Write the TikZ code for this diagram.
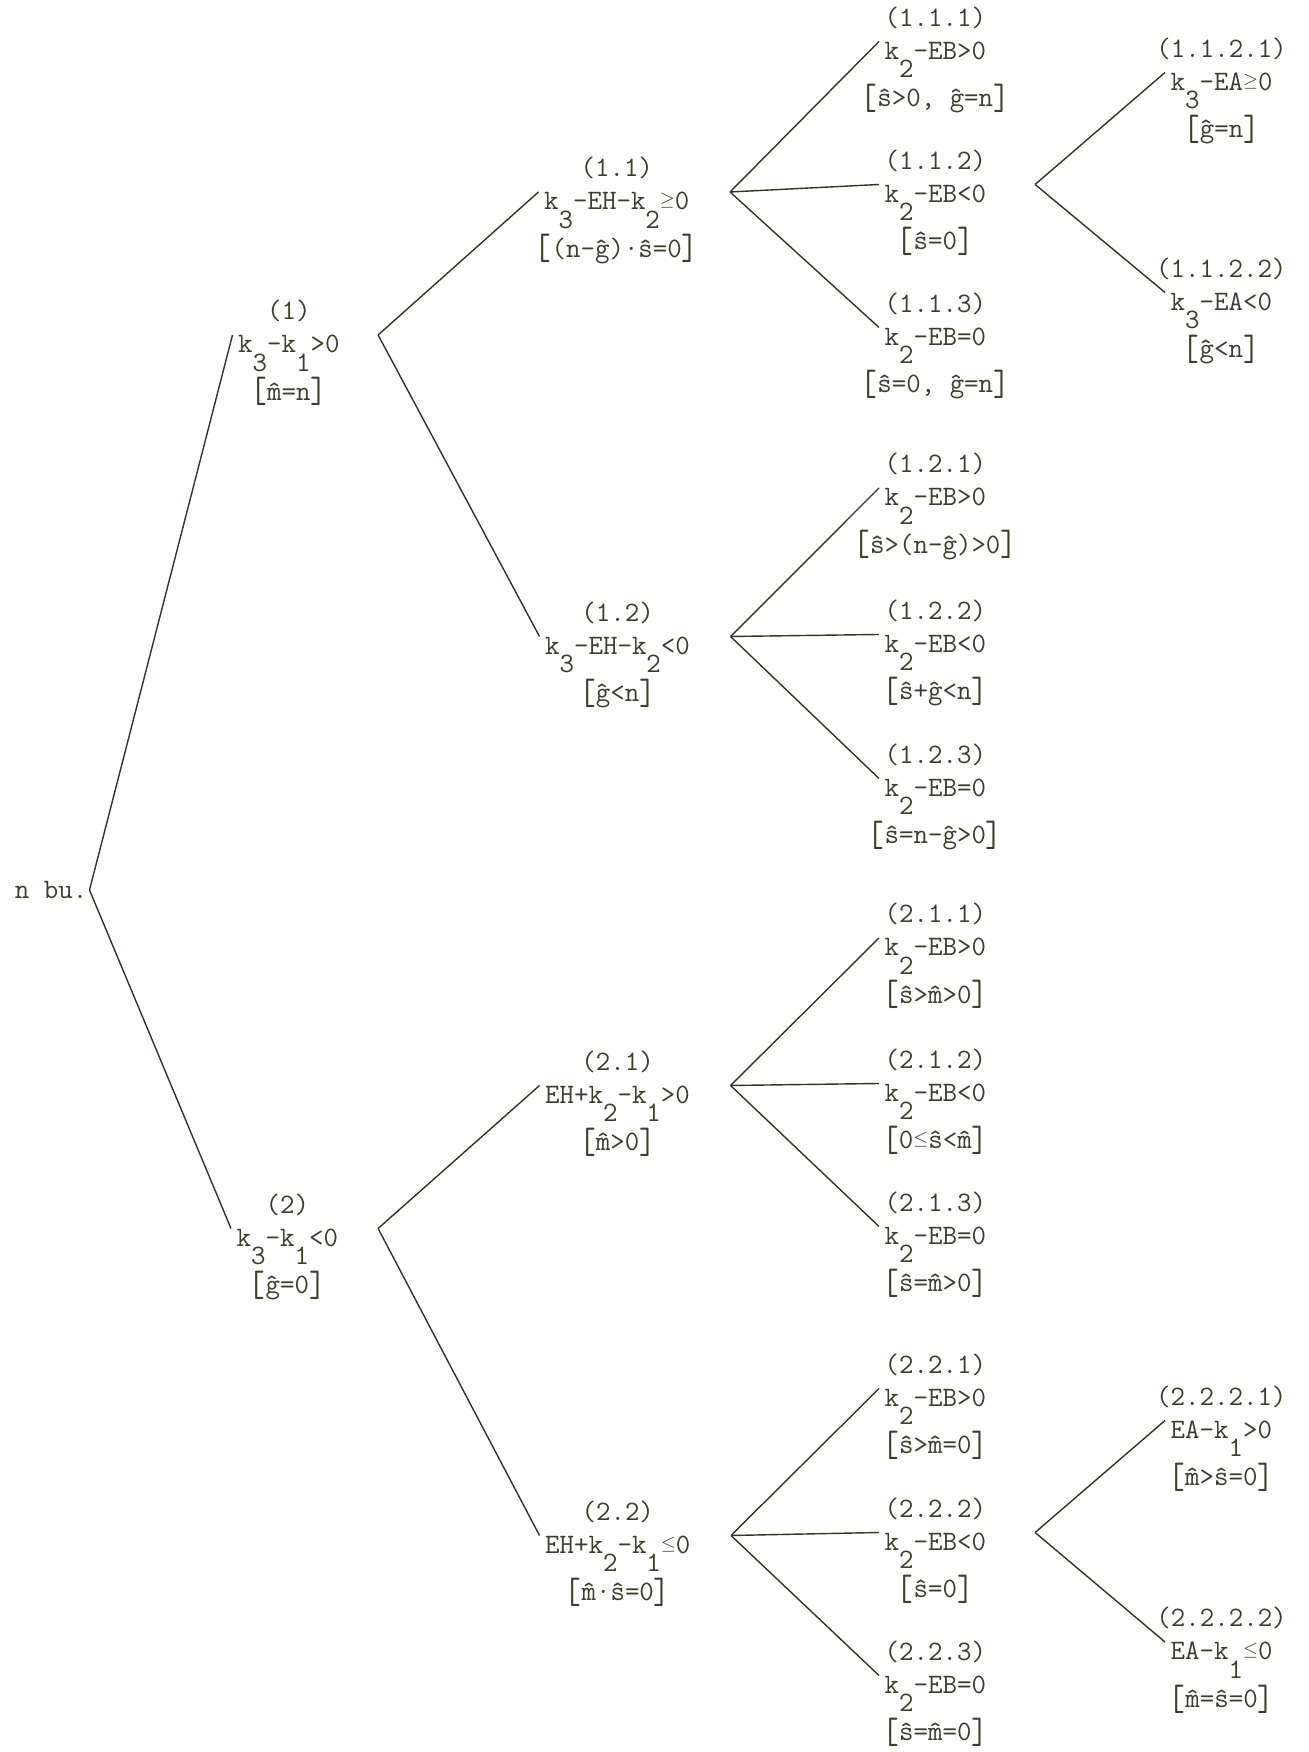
\documentclass[tikz,border=0pt]{standalone}
\definecolor{inkc}{RGB}{62,60,45}
\colorlet{linec}{inkc!85!black}
\newcommand{\typew}{\fontsize{16}{19}\selectfont\ttfamily}
\newcommand{\dnsc}[1]{\raisebox{-10.5pt}{#1}}
\newcommand{\geqs}{\raisebox{2.5pt}{$\scriptstyle\geq$}}
\newcommand{\leqs}{\raisebox{2.5pt}{$\scriptstyle\leq$}}
\newcommand{\mh}{\^{m}}
\newcommand{\lbk}{\raisebox{-1.5pt}{\scalebox{1.15}[1.3]{[}}}
\newcommand{\rbk}{\raisebox{-1.5pt}{\scalebox{1.15}[1.3]{]}}}
\tikzset{
  cond/.style={anchor=north west, font=\typew, text=inkc, inner xsep=3pt, inner ysep=0pt, text height=10pt, text depth=12pt},
  tag/.style={font=\typew, text=inkc, inner sep=0pt, text height=11pt, text depth=4pt},
  num/.style={label={[tag,label distance=4.4pt]above:{#1}}},
  rng/.style={label={[tag,label distance=3.6pt]below:{\lbk#1\rbk}}},
  branch/.style={draw=linec, line width=0.8pt}
}
\begin{document}
\begin{tikzpicture}
\useasboundingbox (0,0) rectangle (26.18cm,35.04cm);

\node[font=\typew, text=inkc, anchor=east, inner sep=1pt] (root) at (1.79cm,17.24cm) {n bu.};

% first split
\node[cond,num={(1)},rng={\mh=n}] (n1) at (4.65cm,28.34cm) {k\dnsc{3}-k\dnsc{1}>0};
\node[cond,num={(2)},rng={ĝ=0}] (n2) at (4.62cm,10.47cm) {k\dnsc{3}-k\dnsc{1}<0};

% second level
\node[cond,num={(1.1)},rng={(n-ĝ)·ŝ=0}] (n11) at (10.77cm,31.20cm) {k\dnsc{3}-EH-k\dnsc{2}\geqs0};
\node[cond,num={(1.2)},rng={ĝ<n}] (n12) at (10.79cm,22.31cm) {k\dnsc{3}-EH-k\dnsc{2}<0};
\node[cond,num={(2.1)},rng={\mh>0}] (n21) at (10.79cm,13.33cm) {EH+k\dnsc{2}-k\dnsc{1}>0};
\node[cond,num={(2.2)},rng={\mh·ŝ=0}] (n22) at (10.79cm,4.33cm) {EH+k\dnsc{2}-k\dnsc{1}\leqs0};

% third level
\node[cond,num={(1.1.1)},rng={ŝ>0,\ ĝ=n}] (n111) at (17.58cm,34.21cm) {k\dnsc{2}-EB>0};
\node[cond,num={(1.1.2)},rng={ŝ=0}] (n112) at (17.58cm,31.35cm) {k\dnsc{2}-EB<0};
\node[cond,num={(1.1.3)},rng={ŝ=0,\ ĝ=n}] (n113) at (17.58cm,28.49cm) {k\dnsc{2}-EB=0};
\node[cond,num={(1.2.1)},rng={ŝ>(n-ĝ)>0}] (n121) at (17.58cm,25.28cm) {k\dnsc{2}-EB>0};
\node[cond,num={(1.2.2)},rng={ŝ+ĝ<n}] (n122) at (17.58cm,22.35cm) {k\dnsc{2}-EB<0};
\node[cond,num={(1.2.3)},rng={ŝ=n-ĝ>0}] (n123) at (17.58cm,19.47cm) {k\dnsc{2}-EB=0};
\node[cond,num={(2.1.1)},rng={ŝ>\mh>0}] (n211) at (17.58cm,16.28cm) {k\dnsc{2}-EB>0};
\node[cond,num={(2.1.2)},rng={0\leqs ŝ<\mh}] (n212) at (17.58cm,13.37cm) {k\dnsc{2}-EB<0};
\node[cond,num={(2.1.3)},rng={ŝ=\mh>0}] (n213) at (17.58cm,10.51cm) {k\dnsc{2}-EB=0};
\node[cond,num={(2.2.1)},rng={ŝ>\mh=0}] (n221) at (17.58cm,7.27cm) {k\dnsc{2}-EB>0};
\node[cond,num={(2.2.2)},rng={ŝ=0}] (n222) at (17.58cm,4.39cm) {k\dnsc{2}-EB<0};
\node[cond,num={(2.2.3)},rng={ŝ=\mh=0}] (n223) at (17.58cm,1.53cm) {k\dnsc{2}-EB=0};

% fourth level
\node[cond,num={(1.1.2.1)},rng={ĝ=n}] (n1121) at (23.30cm,33.59cm) {k\dnsc{3}-EA\geqs0};
\node[cond,num={(1.1.2.2)},rng={ĝ<n}] (n1122) at (23.30cm,29.19cm) {k\dnsc{3}-EA<0};
\node[cond,num={(2.2.2.1)},rng={\mh>ŝ=0}] (n2221) at (23.30cm,6.63cm) {EA-k\dnsc{1}>0};
\node[cond,num={(2.2.2.2)},rng={\mh=ŝ=0}] (n2222) at (23.30cm,2.20cm) {EA-k\dnsc{1}\leqs0};

\draw[branch] (root.east) -- (n1.north west);
\draw[branch] (root.east) -- (n2.north west);
\foreach \c in {n11,n12} \draw[branch] ([xshift=0.66cm]n1.north east) -- (\c.north west);
\foreach \c in {n21,n22} \draw[branch] ([xshift=0.69cm]n2.north east) -- (\c.north west);
\foreach \p/\c in {n11/n111,n11/n112,n11/n113,n12/n121,n12/n122,n12/n123,
                   n21/n211,n21/n212,n21/n213,n22/n221,n22/n222,n22/n223}
  \draw[branch] ([xshift=0.70cm]\p.north east) -- (\c.north west);
\foreach \p/\c in {n112/n1121,n112/n1122,n222/n2221,n222/n2222}
  \draw[branch] ([xshift=0.87cm]\p.north east) -- (\c.north west);

\end{tikzpicture}
\end{document}
